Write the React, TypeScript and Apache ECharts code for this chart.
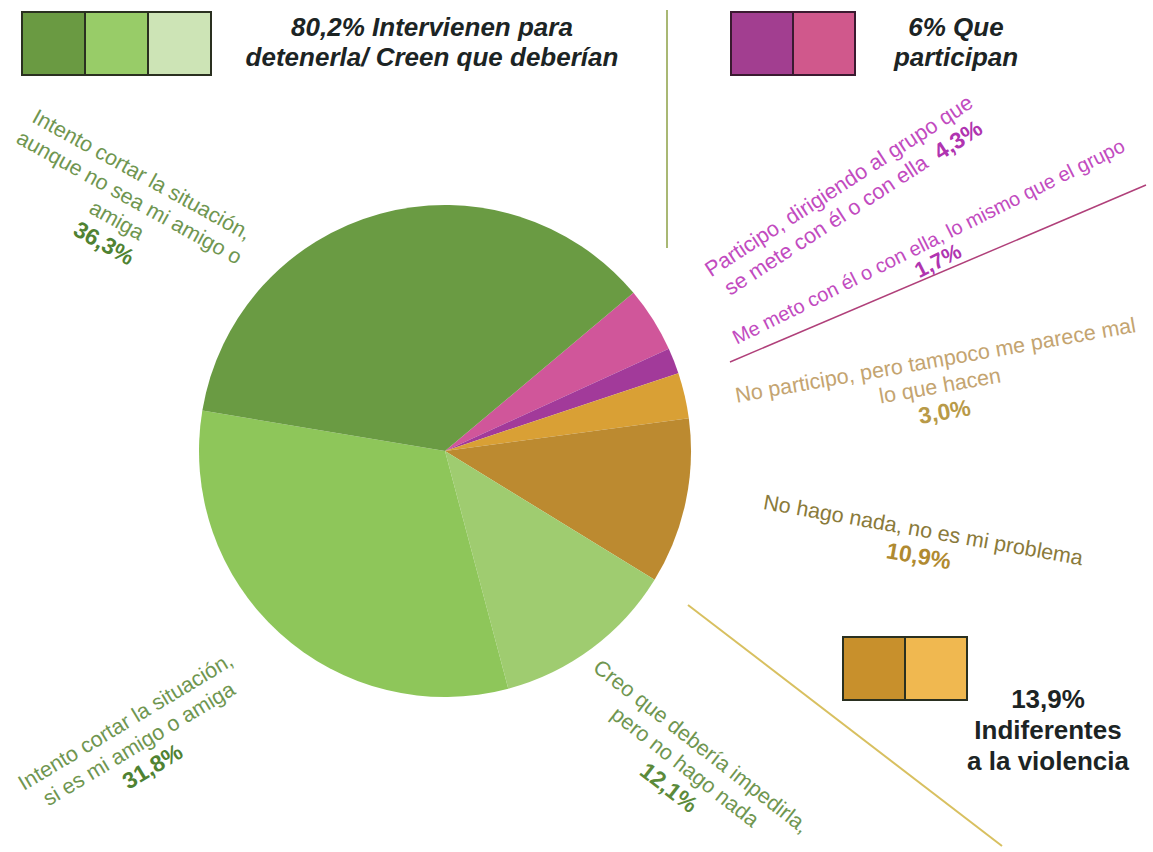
import React, { useEffect, useRef } from "react";
import * as echarts from "echarts";

const categories = [
  "Participo, dirigiendo al grupo que se mete con él o con ella",
  "Me meto con él o con ella, lo mismo que el grupo",
  "No participo, pero tampoco me parece mal lo que hacen",
  "No hago nada, no es mi problema",
  "Creo que debería impedirla, pero no hago nada",
  "Intento cortar la situación, si es mi amigo o amiga",
  "Intento cortar la situación, aunque no sea mi amigo o amiga",
];
const values = [4.3, 1.7, 3.0, 10.9, 12.1, 31.8, 36.3];
const pctLabels = ["4,3%", "1,7%", "3,0%", "10,9%", "12,1%", "31,8%", "36,3%"];
const labelLines = [
  ["Participo, dirigiendo al grupo que", "se mete con él o con ella"],
  ["Me meto con él o con ella, lo mismo que el grupo"],
  ["No participo, pero tampoco me parece mal", "lo que hacen"],
  ["No hago nada, no es mi problema"],
  ["Creo que debería impedirla,", "pero no hago nada"],
  ["Intento cortar la situación,", "si es mi amigo o amiga"],
  ["Intento cortar la situación,", "aunque no sea mi amigo o", "amiga"],
];
const pieColors = ["#d0569a", "#a23a9a", "#d9a035", "#bc8a30", "#9fcc70", "#8ec65a", "#6a9b43"];

const groupTitles = [
  "80,2% Intervienen para\ndetenerla/ Creen que deberían",
  "6% Que\nparticipan",
  "13,9%\nIndiferentes\na la violencia",
];
const groupColors = [
  ["#6a9a42", "#98cc68", "#cde4b6"],
  ["#a23e90", "#d0588c"],
  ["#c8902c", "#f0b850"],
];

const FONT = "Liberation Sans, Arial, sans-serif";
const deg = (d: number) => (d * Math.PI) / 180;

type Layout = {
  x: number;
  y: number;
  rot: number;
  col: string;
  pcol: string;
  fs: number;
  inline?: boolean;
  pct?: [number, number]; // separate position for the percentage
};
const labelLayout: Layout[] = [
  { x: 846, y: 197, rot: 33, col: "#c24bbf", pcol: "#b034b0", fs: 21.5, inline: true },
  { x: 928.5, y: 241.5, rot: 26.5, col: "#c24bbf", pcol: "#b034b0", fs: 20, pct: [938, 261] },
  { x: 940, y: 386, rot: 10, col: "#c4a470", pcol: "#b89a48", fs: 21.5 },
  { x: 921, y: 543, rot: -10, col: "#8a7a3a", pcol: "#b08a30", fs: 21.5 },
  { x: 685, y: 767, rot: -38, col: "#6f9650", pcol: "#5b8a3a", fs: 21.5 },
  { x: 139, y: 744, rot: 31, col: "#6f9650", pcol: "#4f8232", fs: 21.5 },
  { x: 123, y: 209, rot: -29, col: "#6f9650", pcol: "#4f8232", fs: 21.5 },
];

export default function App() {
  const ref = useRef<HTMLDivElement>(null);
  useEffect(() => {
    document.body.style.margin = "0";
    const chart = echarts.init(ref.current!, null, { renderer: "svg" });
    const graphics: any[] = [];

    labelLayout.forEach((l, i) => {
      const lines = labelLines[i].slice();
      let text: string;
      if (l.inline) {
        lines[lines.length - 1] = lines[lines.length - 1] + "  {b|" + pctLabels[i] + "}";
        text = lines.join("\n");
      } else if (l.pct) {
        text = lines.join("\n");
      } else {
        text = lines.join("\n") + "\n{b|" + pctLabels[i] + "}";
      }
      graphics.push({
        type: "text",
        x: l.x,
        y: l.y,
        rotation: deg(l.rot),
        z: 10,
        style: {
          text,
          x: 0,
          y: 0,
          align: "center",
          verticalAlign: "middle",
          fill: l.col,
          font: `${l.fs}px ${FONT}`,
          lineHeight: 26,
          rich: {
            b: { fill: l.pcol, font: `bold ${l.fs + 1.5}px ${FONT}`, lineHeight: 26 },
          },
        },
      });
      if (l.pct) {
        graphics.push({
          type: "text",
          x: l.pct[0],
          y: l.pct[1],
          rotation: deg(l.rot),
          z: 10,
          style: {
            text: pctLabels[i],
            x: 0,
            y: 0,
            align: "center",
            verticalAlign: "middle",
            fill: l.pcol,
            font: `bold ${l.fs + 1.5}px ${FONT}`,
          },
        });
      }
    });

    // legend boxes
    const boxSets = [
      { x: 22, y: 12, w: 63, h: 63 },
      { x: 731, y: 12, w: 62, h: 63 },
      { x: 843, y: 637, w: 62, h: 63 },
    ];
    boxSets.forEach((b, si) => {
      groupColors[si].forEach((c, j) => {
        graphics.push({
          type: "rect",
          shape: { x: b.x + j * b.w, y: b.y, width: b.w, height: b.h },
          style: { fill: c, stroke: si === 1 ? "#3a1a30" : "#2a3020", lineWidth: 2 },
        });
      });
    });

    const titleLayout = [
      { x: 432, y: 42, italic: true, lh: 30, size: 26 },
      { x: 956, y: 42, italic: true, lh: 30, size: 26 },
      { x: 1048, y: 730, italic: false, lh: 31, size: 26 },
    ];
    titleLayout.forEach((t, i) => {
      graphics.push({
        type: "text",
        x: t.x,
        y: t.y,
        style: {
          text: groupTitles[i],
          x: 0,
          y: 0,
          align: "center",
          verticalAlign: "middle",
          fill: "#1c2424",
          font: `${t.italic ? "italic " : ""}bold ${t.size}px ${FONT}`,
          lineHeight: t.lh,
        },
      });
    });

    // separator lines
    graphics.push(
      { type: "line", shape: { x1: 667, y1: 10, x2: 667, y2: 248 }, style: { stroke: "#a9b874", lineWidth: 2 } },
      { type: "line", shape: { x1: 1146, y1: 185, x2: 730, y2: 362 }, style: { stroke: "#b0407a", lineWidth: 1.5 } },
      { type: "line", shape: { x1: 688, y1: 605, x2: 1002, y2: 846 }, style: { stroke: "#d8c060", lineWidth: 2 } }
    );

    chart.setOption({
      animation: false,
      backgroundColor: "#ffffff",
      series: [
        {
          type: "pie",
          center: [445, 451],
          radius: [0, 246],
          startAngle: 40,
          clockwise: true,
          label: { show: false },
          labelLine: { show: false },
          emphasis: { disabled: true },
          itemStyle: { borderWidth: 0 },
          data: categories.map((name, i) => ({
            name,
            value: values[i],
            itemStyle: { color: pieColors[i] },
          })),
        },
      ],
      graphic: graphics,
    });
    return () => chart.dispose();
  }, []);
  return <div ref={ref} style={{ width: 1153, height: 852 }} />;
}
